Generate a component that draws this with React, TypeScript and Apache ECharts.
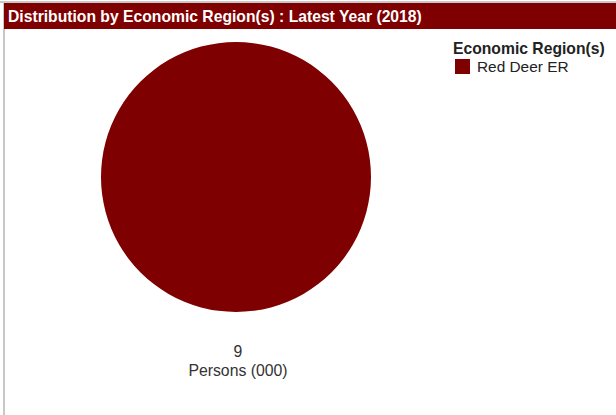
import React, { useEffect, useRef } from "react";
import * as echarts from "echarts";

const chartTitle = "Distribution by Economic Region(s) : Latest Year (2018)";
const legendTitle = "Economic Region(s)";
const regions = ["Red Deer ER"];
const values = [9];
const unitLabel = "Persons (000)";
const colors = ["#7f0000"];

export default function App() {
  const ref = useRef<HTMLDivElement>(null);
  useEffect(() => {
    if (!ref.current) return;
    const chart = echarts.init(ref.current, null, { renderer: "svg" });
    const font = "Liberation Sans, Arial, sans-serif";
    chart.setOption({
      animation: false,
      textStyle: { fontFamily: font },
      color: colors,
      graphic: [
        { type: "rect", shape: { x: 0, y: 1, width: 616, height: 2 }, style: { fill: "#c8c8c8" } },
        { type: "rect", shape: { x: 3, y: 1, width: 2, height: 414 }, style: { fill: "#c8c8c8" } },
        { type: "rect", shape: { x: 4, y: 3, width: 612, height: 26 }, style: { fill: "#7f0000" } },
        {
          type: "text",
          x: 8,
          y: 16,
          style: { text: chartTitle, fill: "#ffffff", font: `bold 15.7px ${font}`, verticalAlign: "middle" },
        },
        {
          type: "text",
          x: 453,
          y: 48,
          style: { text: legendTitle, fill: "#222222", font: `bold 15.7px ${font}`, verticalAlign: "middle" },
        },
        {
          type: "text",
          x: 238,
          y: 351,
          style: { text: String(values[0]), fill: "#333333", font: `15.8px ${font}`, align: "center", verticalAlign: "middle" },
        },
        {
          type: "text",
          x: 238,
          y: 370,
          style: { text: unitLabel, fill: "#333333", font: `15.8px ${font}`, align: "center", verticalAlign: "middle" },
        },
      ],
      legend: {
        orient: "vertical",
        left: 450,
        top: 54,
        icon: "rect",
        itemWidth: 15,
        itemHeight: 15,
        itemGap: 6,
        textStyle: { fontSize: 15.4, color: "#222222", fontFamily: font, padding: [0, 0, 0, 2] },
        data: regions,
      },
      series: [
        {
          type: "pie",
          center: [236, 177],
          radius: 135,
          label: { show: false },
          labelLine: { show: false },
          itemStyle: { borderWidth: 0 },
          emphasis: { disabled: true },
          data: regions.map((r, i) => ({ name: r, value: values[i] })),
        },
      ],
    });
    return () => chart.dispose();
  }, []);
  return <div ref={ref} style={{ position: "fixed", left: 0, top: 0, width: 616, height: 415, background: "#fff" }} />;
}
